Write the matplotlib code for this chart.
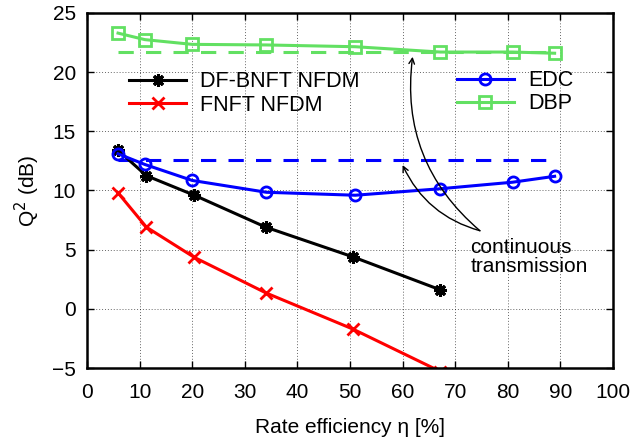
import matplotlib
matplotlib.use("Agg")
import matplotlib.pyplot as plt

plt.rcParams['font.family'] = ['Liberation Sans', 'DejaVu Sans']

# rate efficiency (%) and Q^2 (dB)
eta_bnft = [5.9, 11.3, 20.4, 34.0, 50.5, 67.2]
q_bnft = [13.4, 11.25, 9.6, 6.9, 4.4, 1.6]

eta_fnft = [5.9, 11.3, 20.4, 34.0, 50.5, 67.2]
q_fnft = [9.8, 6.9, 4.35, 1.35, -1.7, -5.3]

eta_ref = [5.9, 11.0, 20.0, 34.1, 51.0, 67.2, 80.9, 88.9]
q_edc = [13.1, 12.2, 10.85, 9.85, 9.6, 10.15, 10.7, 11.2]
q_dbp = [23.3, 22.75, 22.35, 22.3, 22.15, 21.7, 21.7, 21.6]

# continuous transmission levels
eta_cont = [5.9, 88.9]
q_edc_cont = [12.6, 12.6]
q_dbp_cont = [21.7, 21.7]

green = '#62e062'
fs = 15

fig = plt.figure(figsize=(6.34, 4.40), dpi=100)
ax = fig.add_axes([87/634, 1-368/440, (613-87)/634, (368-13)/440])

lw = 2.2
ax.plot(eta_cont, q_edc_cont, color='blue', lw=lw, dashes=(5, 4))
ax.plot(eta_cont, q_dbp_cont, color=green, lw=lw, dashes=(5, 4))

l1, = ax.plot(eta_bnft, q_bnft, color='black', lw=lw, marker=(8, 2, 0), ms=9, mew=2.2,
              label='DF-BNFT NFDM')
l2, = ax.plot(eta_fnft, q_fnft, color='red', lw=lw, marker='x', ms=8, mew=2,
              label='FNFT NFDM')
l3, = ax.plot(eta_ref, q_edc, color='blue', lw=lw, marker='o', ms=8, mew=2,
              mfc='none', label='EDC')
l4, = ax.plot(eta_ref, q_dbp, color=green, lw=lw, marker='s', ms=8, mew=2,
              mfc='none', label='DBP')

ax.set_xlim(0, 100)
ax.set_ylim(-5, 25)
ax.set_xticks(range(0, 101, 10))
ax.set_yticks(range(-5, 26, 5))
ax.grid(True, color='black', lw=0.7, ls=(0, (1, 2)), alpha=0.6)
ax.tick_params(direction='in', top=True, right=True, labelsize=fs, length=5, width=1)
ax.tick_params(axis='x', pad=11)
ax.tick_params(axis='y', pad=8)
for s in ax.spines.values():
    s.set_linewidth(1.8)

ax.set_xlabel('Rate efficiency η [%]', fontsize=fs, labelpad=11)
ax.set_ylabel('Q$^2$ (dB)', fontsize=fs, labelpad=7)

leg_kw = dict(frameon=False, fontsize=15.5, handlelength=2.65, handletextpad=0.65,
              labelspacing=0.1, borderpad=0, borderaxespad=0, numpoints=1,
              loc='center left', bbox_transform=ax.transData)
leg1 = ax.legend(handles=[l1, l2], bbox_to_anchor=(8, 18.2), **leg_kw)
ax.add_artist(leg1)
ax.legend(handles=[l3, l4], bbox_to_anchor=(70.3, 18.3), **leg_kw)

arrow_kw = dict(arrowstyle='->', color='black', lw=1, shrinkA=0, shrinkB=0)
ax.annotate('', xy=(61.9, 21.3), xytext=(74.7, 6.6),
            arrowprops=dict(connectionstyle='arc3,rad=-0.27', **arrow_kw))
ax.annotate('', xy=(60.0, 12.15), xytext=(74.7, 6.6),
            arrowprops=dict(connectionstyle='arc3,rad=-0.23', **arrow_kw))
ax.text(72.9, 4.4, 'continuous\ntransmission', fontsize=fs, ha='left', va='center',
        linespacing=1.0)

fig.savefig('out.png', dpi=100)
